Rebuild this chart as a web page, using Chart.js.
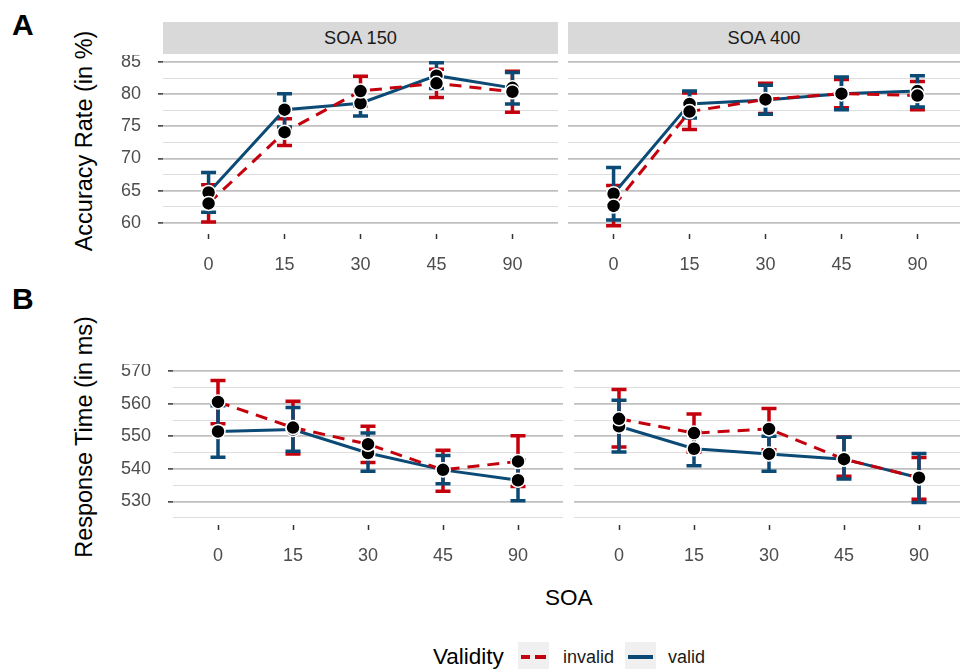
<!DOCTYPE html>
<html>
<head>
<meta charset="utf-8">
<script src="https://cdn.jsdelivr.net/npm/chart.js@4.4.1/dist/chart.umd.min.js"></script>
<style>
html, body { margin: 0; padding: 0; background: #fff; overflow: hidden; }
#fig { position: relative; width: 960px; height: 669px; overflow: hidden; font-family: "Liberation Sans", Arial, sans-serif; }
canvas { position: absolute; }
.strip { position: absolute; background: #d9d9d9; color: #1a1a1a; font-size: 18.2px; text-align: center; }
.tag { position: absolute; font-weight: bold; font-size: 30px; line-height: 30px; }
.ytitle { position: absolute; font-size: 23.5px; white-space: nowrap; transform: translate(-50%, -50%) rotate(-90deg); }
.txt { position: absolute; white-space: nowrap; }
.key { position: absolute; background: #f0f0f0; }
.seg { position: absolute; height: 3.5px; }
</style>
</head>
<body>
<div id="fig">
  <div class="tag" style="left:12px;top:10px;">A</div>
  <div class="tag" style="left:12px;top:284px;">B</div>
  <div class="ytitle" style="left:84px;top:141px;">Accuracy Rate (in %)</div>
  <div class="ytitle" style="left:84px;top:437px;">Response Time (in ms)</div>

  <div class="strip" style="left:163px;top:22px;width:395px;height:32px;line-height:32px;">SOA 150</div>
  <div class="strip" style="left:568px;top:22px;width:392px;height:32px;line-height:32px;">SOA 400</div>

  <canvas id="a150"></canvas>
  <canvas id="a400"></canvas>
  <canvas id="r150"></canvas>
  <canvas id="r400"></canvas>

  <div class="txt" style="left:545px;top:585px;font-size:22.5px;">SOA</div>

  <div class="txt" style="left:433px;top:644px;font-size:22.5px;">Validity</div>
  <div class="key" style="left:518px;top:642px;width:31px;height:31px;"></div>
  <div class="seg" style="left:521px;top:655px;width:9px;background:#C4000C;"></div>
  <div class="seg" style="left:535px;top:655px;width:11px;background:#C4000C;"></div>
  <div class="txt" style="left:563px;top:647px;font-size:18px;color:#1a1a1a;">invalid</div>
  <div class="key" style="left:625px;top:642px;width:31px;height:31px;"></div>
  <div class="seg" style="left:628px;top:655px;width:25px;background:#0B4A75;"></div>
  <div class="txt" style="left:668px;top:647px;font-size:18px;color:#1a1a1a;">valid</div>
</div>

<script>
// SOA levels (x categories)
const soaLevels = ['0', '15', '30', '45', '90'];

// Accuracy rate (%), SOA 150
const accInvalid150   = [63.0, 74.1, 80.5, 81.7, 80.4];
const accInvalid150Lo = [60.1, 72.0, 78.2, 79.5, 77.2];
const accInvalid150Hi = [65.9, 76.2, 82.8, 83.9, 83.6];
const accValid150     = [64.7, 77.6, 78.6, 82.9, 81.0];
const accValid150Lo   = [61.6, 74.9, 76.6, 80.9, 78.5];
const accValid150Hi   = [67.8, 80.1, 80.6, 84.9, 83.4];

// Accuracy rate (%), SOA 400
const accInvalid400   = [62.6, 77.3, 79.2, 80.1, 79.8];
const accInvalid400Lo = [59.5, 74.5, 77.0, 77.9, 77.6];
const accInvalid400Hi = [65.8, 80.2, 81.7, 82.3, 82.0];
const accValid400     = [64.5, 78.5, 79.1, 80.1, 80.5];
const accValid400Lo   = [60.4, 76.3, 76.9, 77.6, 78.0];
const accValid400Hi   = [68.6, 80.5, 81.4, 82.7, 82.9];

// Response time (ms), SOA 150
const rtInvalid150   = [560.6, 552.7, 547.6, 539.7, 542.3];
const rtInvalid150Lo = [553.9, 544.6, 542.0, 533.1, 534.6];
const rtInvalid150Hi = [567.2, 560.8, 553.1, 545.7, 550.2];
const rtValid150     = [551.5, 552.1, 544.9, 539.7, 536.5];
const rtValid150Lo   = [543.6, 545.4, 539.3, 535.4, 530.2];
const rtValid150Hi   = [559.4, 558.9, 551.0, 544.1, 542.8];

// Response time (ms), SOA 400
const rtInvalid400   = [555.4, 551.0, 552.3, 543.0, 537.3];
const rtInvalid400Lo = [546.7, 545.2, 545.9, 537.7, 530.7];
const rtInvalid400Hi = [564.4, 556.9, 558.6, 549.8, 543.5];
const rtValid400     = [553.1, 546.2, 544.6, 543.0, 537.3];
const rtValid400Lo   = [545.2, 541.0, 539.3, 536.9, 529.7];
const rtValid400Hi   = [561.1, 551.5, 550.0, 549.7, 544.7];

// tick labels
const accTicks = [60, 65, 70, 75, 80, 85];
const rtTicks = [530, 540, 550, 560, 570];

const RED = '#C4000C';
const BLUE = '#0B4A75';
const FONT = '"Liberation Sans", Arial, sans-serif';

// error bars under lines
const errorBars = {
  id: 'errorBars',
  beforeDatasetsDraw(chart) {
    const ctx = chart.ctx;
    const xs = chart.scales.x, ys = chart.scales.y;
    chart.data.datasets.forEach(ds => {
      if (!ds.errLo) return;
      ctx.save();
      ctx.strokeStyle = ds.borderColor;
      ctx.lineWidth = 3.5;
      ctx.lineCap = 'butt';
      ds.errLo.forEach((lo, i) => {
        const x = xs.getPixelForValue(i);
        const yl = ys.getPixelForValue(lo);
        const yh = ys.getPixelForValue(ds.errHi[i]);
        ctx.beginPath();
        ctx.moveTo(x, yl); ctx.lineTo(x, yh);
        ctx.moveTo(x - 7.5, yl); ctx.lineTo(x + 7.5, yl);
        ctx.moveTo(x - 7.5, yh); ctx.lineTo(x + 7.5, yh);
        ctx.stroke();
      });
      ctx.restore();
    });
  }
};

function pts(arr) { return arr.map((v, i) => ({ x: i, y: v })); }

function noPad(s) { s.paddingTop = 0; s.paddingBottom = 0; s.paddingLeft = 0; s.paddingRight = 0; }

function panel(id, box, yr, majors, showY, series) {
  const yw = showY ? 70 : 0, xh = 50;
  const cv = document.getElementById(id);
  const w = Math.round(box.r - box.l + yw), h = Math.round(box.b - box.t + xh);
  cv.width = w; cv.height = h;
  cv.style.left = Math.round(box.l - yw) + 'px';
  cv.style.top = Math.round(box.t) + 'px';
  const step = majors[1] - majors[0];
  const allTicks = [];
  for (let v = majors[0] - step; v <= majors[majors.length - 1] + step; v += step / 2) {
    if (v >= yr[0] && v <= yr[1]) allTicks.push(v);
  }
  const isMajor = v => majors.includes(v);
  const datasets = [];
  series.forEach(s => {
    datasets.push({
      data: pts(s.y), errLo: s.lo, errHi: s.hi,
      borderColor: s.color, borderWidth: 3, borderDash: s.dash,
      pointRadius: 0, showLine: true, fill: false, order: 2
    });
  });
  series.forEach(s => {
    datasets.push({
      data: pts(s.y), showLine: false,
      pointRadius: 7, pointBackgroundColor: '#000', pointBorderColor: '#fff',
      pointBorderWidth: 1.5, order: 1
    });
  });
  new Chart(cv, {
    type: 'scatter',
    data: { datasets },
    options: {
      responsive: false, animation: false,
      layout: { padding: 0, autoPadding: false },
      plugins: { legend: { display: false }, tooltip: { enabled: false } },
      scales: {
        x: {
          type: 'linear', min: -0.6, max: 4.6,
          afterBuildTicks: s => { s.ticks = soaLevels.map((_, i) => ({ value: i })); },
          afterFit: s => { s.height = xh; noPad(s); },
          ticks: { callback: v => soaLevels[v], color: '#4d4d4d', font: { family: FONT, size: 18 }, padding: 15, maxRotation: 0, autoSkip: false },
          grid: { drawOnChartArea: false, tickLength: 5, tickColor: '#333', tickWidth: 1.5 },
          border: { display: false }
        },
        y: {
          min: yr[0], max: yr[1],
          afterBuildTicks: s => { s.ticks = allTicks.map(v => ({ value: v })); },
          afterFit: s => { s.width = yw; noPad(s); },
          ticks: {
            display: showY,
            callback: v => isMajor(v) ? String(v) : '',
            color: '#4d4d4d', font: { family: FONT, size: 18 }, padding: 17, autoSkip: false
          },
          grid: {
            color: c => isMajor(c.tick.value) ? '#c0c0c0' : '#dedede',
            lineWidth: c => isMajor(c.tick.value) ? 1.8 : 1.1,
            drawTicks: showY, tickLength: 5,
            tickColor: c => isMajor(c.tick.value) ? '#333' : 'rgba(0,0,0,0)',
            tickWidth: 1.5
          },
          border: { display: false }
        }
      }
    },
    plugins: [errorBars]
  });
}

const accRange = [58.23, 86.12];
const rtRange = [522.75, 572.25];

panel('a150', { l: 163, r: 558.2, t: 55.2, b: 234.4 }, accRange, accTicks, true, [
  { y: accInvalid150, lo: accInvalid150Lo, hi: accInvalid150Hi, color: RED, dash: [12, 8] },
  { y: accValid150, lo: accValid150Lo, hi: accValid150Hi, color: BLUE, dash: [] }
]);
panel('a400', { l: 568.4, r: 963.6, t: 55.2, b: 234.4 }, accRange, accTicks, false, [
  { y: accInvalid400, lo: accInvalid400Lo, hi: accInvalid400Hi, color: RED, dash: [12, 8] },
  { y: accValid400, lo: accValid400Lo, hi: accValid400Hi, color: BLUE, dash: [] }
]);
panel('r150', { l: 173, r: 563, t: 364.4, b: 525.3 }, rtRange, rtTicks, true, [
  { y: rtInvalid150, lo: rtInvalid150Lo, hi: rtInvalid150Hi, color: RED, dash: [12, 8] },
  { y: rtValid150, lo: rtValid150Lo, hi: rtValid150Hi, color: BLUE, dash: [] }
]);
panel('r400', { l: 574, r: 964, t: 364.4, b: 525.3 }, rtRange, rtTicks, false, [
  { y: rtInvalid400, lo: rtInvalid400Lo, hi: rtInvalid400Hi, color: RED, dash: [12, 8] },
  { y: rtValid400, lo: rtValid400Lo, hi: rtValid400Hi, color: BLUE, dash: [] }
]);
</script>
</body>
</html>
